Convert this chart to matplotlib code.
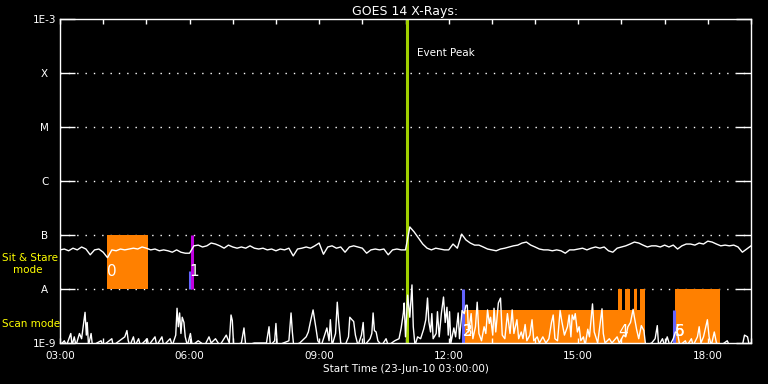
import numpy as np
import matplotlib
matplotlib.use('Agg')
import matplotlib.pyplot as plt

# hours after 03:00 on 23-Jun-2010
long_t = np.round(np.arange(0, 16.05, 0.1), 2)
# long channel (1-8 A), units of 1e-8 W/m^2, one value every 6 min
long_v = [5.3, 5.5, 5.1, 5.7, 5.3, 6.0, 5.5, 4.3, 5.3, 5.5,
          4.8, 3.8, 5.3, 5.1, 5.5, 5.3, 5.5, 5.7, 5.5, 6.0,
          5.7, 5.3, 5.5, 5.1, 5.3, 5.1, 4.8, 5.3, 4.8, 4.6,
          4.6, 6.3, 6.5, 6.0, 6.3, 7.1, 6.8, 6.3, 5.7, 6.5,
          6.0, 5.7, 6.0, 5.7, 6.3, 5.7, 5.5, 5.7, 5.3, 5.5,
          5.1, 5.5, 5.3, 5.7, 4.1, 5.5, 5.7, 6.0, 5.7, 6.3,
          7.1, 4.4, 6.0, 6.3, 5.7, 6.0, 4.8, 6.0, 6.3, 6.0,
          5.7, 4.6, 5.3, 5.5, 5.3, 5.5, 4.3, 5.3, 5.5, 5.3,
          5.3, 14.1, 11.4, 8.8, 6.8, 5.7, 5.3, 5.7, 5.5, 5.3,
          5.3, 6.8, 5.7, 10.4, 8.1, 7.1, 6.5, 6.5, 6.0, 5.5,
          5.3, 5.1, 5.5, 5.7, 6.0, 6.3, 6.5, 7.1, 7.4, 6.5,
          6.0, 5.5, 5.3, 5.3, 5.1, 5.3, 5.1, 4.6, 5.3, 5.3,
          5.5, 5.7, 5.3, 5.7, 6.0, 5.7, 6.0, 5.1, 4.8, 5.7,
          6.0, 6.3, 6.8, 7.4, 7.1, 6.5, 6.0, 6.3, 6.3, 6.0,
          6.5, 6.0, 6.5, 5.5, 6.3, 6.8, 6.8, 6.5, 7.1, 6.8,
          7.7, 7.4, 6.8, 6.3, 6.5, 6.3, 6.5, 6.0, 4.8, 5.5,
          6.3]

# short channel (0.5-4 A), units of 1e-9 W/m^2
short_pts = [(0.00, 0.9), (0.10, 1.1), (0.15, 0.9), (0.25, 1.5), (0.28, 0.9), (0.33, 1.3), (0.37, 0.9),
             (0.45, 1.5), (0.50, 1.2), (0.58, 3.7), (0.61, 1.4), (0.63, 2.4), (0.66, 0.9), (0.72, 1.5),
             (0.75, 0.9), (0.95, 1.1), (1.00, 0.9), (1.20, 1.2), (1.23, 0.9), (1.50, 1.3), (1.55, 1.7),
             (1.58, 1.1), (1.62, 0.9), (1.70, 1.3), (1.74, 0.9), (1.82, 1.2), (1.86, 0.9), (2.02, 1.2),
             (2.05, 0.9), (2.20, 1.3), (2.24, 0.9), (2.36, 1.3), (2.40, 0.9), (2.55, 1.2), (2.60, 0.9),
             (2.68, 1.4), (2.71, 4.4), (2.74, 2.0), (2.77, 3.6), (2.80, 1.5), (2.83, 3.0), (2.87, 2.4),
             (2.90, 1.3), (2.95, 0.9), (3.02, 1.5), (3.06, 0.9), (3.20, 1.1), (3.35, 0.9), (3.45, 1.3),
             (3.50, 1.0), (3.60, 1.2), (3.70, 0.9), (3.85, 1.4), (3.92, 1.0), (3.96, 3.3), (3.99, 2.6),
             (4.02, 0.9), (4.20, 1.0), (4.26, 1.9), (4.30, 0.9), (4.50, 1.0), (4.78, 1.0), (4.84, 2.0),
             (4.87, 0.9), (4.97, 1.1), (5.00, 2.3), (5.03, 0.9), (5.30, 1.1), (5.35, 3.6), (5.38, 1.6),
             (5.41, 0.9), (5.55, 1.0), (5.70, 1.3), (5.75, 1.6), (5.80, 2.5), (5.86, 4.1), (5.90, 2.6),
             (5.93, 1.8), (5.97, 1.1), (6.05, 0.9), (6.18, 1.9), (6.23, 1.1), (6.26, 2.7), (6.30, 0.9),
             (6.38, 1.5), (6.42, 5.7), (6.45, 2.6), (6.50, 1.0), (6.60, 0.9), (6.68, 1.3), (6.71, 3.0),
             (6.76, 2.7), (6.80, 2.5), (6.84, 1.4), (6.90, 0.9), (6.98, 1.4), (7.02, 2.4), (7.05, 0.9),
             (7.18, 1.2), (7.22, 1.5), (7.25, 3.6), (7.28, 1.7), (7.32, 1.6), (7.36, 1.1), (7.45, 0.9),
             (7.55, 1.2), (7.60, 0.9), (7.75, 1.1), (7.85, 1.2), (7.90, 1.9), (7.95, 3.6), (7.97, 5.5),
             (8.00, 1.3), (8.05, 7.7), (8.10, 3.0), (8.15, 11.9), (8.18, 2.0), (8.22, 0.9), (8.28, 1.3),
             (8.35, 1.2), (8.42, 1.8), (8.47, 2.7), (8.51, 6.8), (8.54, 2.5), (8.58, 1.6), (8.61, 3.5),
             (8.64, 1.2), (8.71, 1.5), (8.74, 3.8), (8.78, 1.3), (8.83, 3.5), (8.88, 7.1), (8.92, 2.4),
             (8.96, 4.6), (8.99, 1.4), (9.02, 3.8), (9.05, 1.0), (9.12, 1.9), (9.16, 1.3), (9.22, 3.6),
             (9.25, 1.2), (9.31, 4.0), (9.36, 3.5), (9.40, 5.0), (9.43, 5.0), (9.46, 1.6), (9.52, 3.5),
             (9.56, 1.2), (9.62, 2.0), (9.66, 5.7), (9.70, 1.5), (9.76, 1.1), (9.82, 2.0), (9.86, 1.5),
             (9.90, 4.1), (9.94, 2.3), (9.97, 3.0), (10.02, 1.4), (10.05, 4.4), (10.09, 1.6),
             (10.15, 5.5), (10.20, 6.8), (10.24, 1.4), (10.30, 1.2), (10.36, 3.5), (10.42, 1.5),
             (10.47, 4.1), (10.51, 1.5), (10.58, 2.7), (10.62, 1.2), (10.68, 1.6), (10.72, 1.2),
             (10.77, 2.2), (10.81, 1.1), (10.88, 1.4), (10.93, 2.7), (10.97, 1.1), (11.05, 1.3),
             (11.10, 1.0), (11.18, 1.3), (11.25, 1.0), (11.32, 1.2), (11.38, 2.4), (11.42, 3.3),
             (11.46, 1.2), (11.52, 1.1), (11.58, 4.0), (11.62, 2.5), (11.68, 1.4), (11.75, 2.0),
             (11.79, 3.3), (11.83, 1.3), (11.86, 3.3), (11.90, 2.7), (11.93, 3.5), (11.98, 1.6),
             (12.02, 2.0), (12.06, 1.1), (12.12, 1.3), (12.16, 0.9), (12.22, 1.8), (12.26, 1.3),
             (12.33, 5.3), (12.37, 1.6), (12.45, 1.0), (12.55, 4.3), (12.58, 1.5), (12.62, 1.0),
             (12.72, 1.2), (12.78, 1.0), (12.90, 1.3), (12.95, 1.0), (13.05, 1.4), (13.10, 1.3),
             (13.15, 2.0), (13.21, 2.4), (13.27, 4.2), (13.30, 3.0), (13.35, 1.8), (13.40, 1.2),
             (13.46, 2.1), (13.52, 1.7), (13.56, 0.9), (13.70, 1.0), (13.78, 1.2), (13.83, 2.1),
             (13.86, 0.9), (13.95, 1.2), (14.00, 0.9), (14.06, 1.3), (14.12, 0.9), (14.20, 1.2),
             (14.25, 1.6), (14.30, 1.5), (14.35, 0.9), (14.48, 1.1), (14.52, 0.9), (14.62, 1.2),
             (14.66, 0.9), (14.76, 1.3), (14.80, 2.0), (14.84, 1.0), (14.90, 1.3), (14.99, 2.7),
             (15.03, 1.3), (15.08, 0.9), (15.15, 1.6), (15.20, 1.0), (15.30, 0.9), (15.45, 1.1),
             (15.50, 0.9), (15.80, 0.9), (15.85, 1.4), (15.92, 1.3), (15.96, 0.9), (16.00, 1.0)]
short_t = [p[0] for p in short_pts]
short_v = [p[1] for p in short_pts]

# observation blocks: start, end (hours), low, high flux
orange_blocks = [(1.09, 2.04, 1e-8, 1e-7),
                 (9.36, 13.55, 1e-9, 4e-9),
                 (12.93, 13.02, 4e-9, 1e-8),
                 (13.09, 13.20, 4e-9, 1e-8),
                 (13.28, 13.36, 4e-9, 1e-8),
                 (13.44, 13.55, 4e-9, 1e-8),
                 (14.25, 15.29, 1e-9, 1e-8)]
# coloured markers: time, low, high, colour
markers = [(3.02, 2.2e-8, 1e-8, '#6464ff'),
           (3.06, 1e-7, 1e-8, '#c000e0'),
           (9.33, 1e-8, 1e-9, '#6464ff'),
           (14.21, 4e-9, 1e-9, '#6464ff')]
event_peak = 8.03

label_t = [1.20, 3.10, 9.45, 9.45, 13.04, 14.34, 14.34]
label_y = [2.1e-8, 2.1e-8, 1.6e-9, 1.6e-9, 1.6e-9, 1.6e-9, 1.6e-9]
label_s = ['0', '1', '2', '3', '4', '5', '6']

ytick_vals = [1e-9, 1e-8, 1e-7, 1e-6, 1e-5, 1e-4, 1e-3]
ytick_lbls = ['1E-9', 'A', 'B', 'C', 'M', 'X', '1E-3']
xtick_vals = [0, 3, 6, 9, 12, 15]
xtick_lbls = ['03:00', '06:00', '09:00', '12:00', '15:00', '18:00']

plt.rcParams['font.family'] = ['DejaVu Sans']
fig = plt.figure(figsize=(7.68, 3.84), dpi=100, facecolor='black')
ax = fig.add_axes([60 / 768, 41 / 384, 691 / 768, 324 / 384], facecolor='black')

for t0, t1, lo, hi in orange_blocks:
    ax.fill_between([t0, t1], lo, hi, color='#ff8000', lw=0, zorder=1)
for t, lo, hi, c in markers:
    ax.plot([t, t], [lo, hi], color=c, lw=2.2, zorder=2, solid_capstyle='butt')
ax.axvline(event_peak, color='#a0d000', lw=2.2, zorder=2)

ax.plot(long_t, np.array(long_v) * 1e-8, color='white', lw=1, zorder=3)
ax.plot(short_t, np.array(short_v) * 1e-9, color='white', lw=1, zorder=3)

for t, y, s in zip(label_t, label_y, label_s):
    ax.text(t, y, s, color='white', fontsize=11, ha='center', va='center', zorder=4)

ax.text(event_peak + 0.23, 2.3e-4, 'Event Peak', color='white', fontsize=7.5, va='center')

ax.set_yscale('log')
ax.set_ylim(1e-9, 1e-3)
ax.set_xlim(0, 16)
ax.set_yticks(ytick_vals)
ax.set_yticklabels(ytick_lbls, ha='center')
ax.minorticks_off()
ax.set_xticks(xtick_vals)
ax.set_xticklabels(xtick_lbls)
ax.set_xticks(range(17), minor=True)
for yv in ytick_vals[1:-1]:
    ax.axhline(yv, color='white', lw=1, ls=(0, (1, 5)), zorder=0.5)

ax.tick_params(axis='y', which='major', direction='in', length=10.8, width=1,
               colors='white', labelsize=7.5, left=True, right=True, pad=11)
ax.tick_params(axis='x', which='both', direction='in', length=3.5, width=1,
               colors='white', labelsize=7.5, top=True, bottom=True, pad=6)
for sp in ax.spines.values():
    sp.set_color('white')
    sp.set_linewidth(1)

ax.set_title('GOES 14 X-Rays:', color='white', fontsize=9, pad=3)
ax.set_xlabel('Start Time (23-Jun-10 03:00:00)', color='white', fontsize=7.5, labelpad=2)

fig.text(2 / 768, 1 - 258 / 384, 'Sit & Stare', color='yellow', fontsize=7.5, va='center')
fig.text(13 / 768, 1 - 270 / 384, 'mode', color='yellow', fontsize=7.5, va='center')
fig.text(2 / 768, 1 - 324 / 384, 'Scan mode', color='yellow', fontsize=7.5, va='center')

fig.savefig('out.png', dpi=100, facecolor='black')
